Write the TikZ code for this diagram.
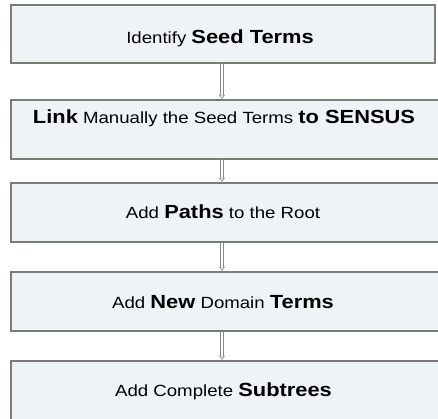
\documentclass[tikz,border=0pt]{standalone}
\usepackage{fontspec}
\setmainfont{Liberation Sans}[FakeStretch=1.15]
\usetikzlibrary{arrows.meta}
\definecolor{boxfill}{HTML}{EEF4F6}
\definecolor{boxline}{HTML}{7A7A7A}
\definecolor{arrline}{HTML}{8A8A8A}
\tikzset{
  stepbox/.style={draw=boxline, line width=1.3pt, fill=boxfill, rectangle, inner sep=0pt},
  steptext/.style={inner sep=0pt, text height=11.5pt, text depth=0pt, font=\fontsize{16.2}{19}\selectfont},
  flow/.style={draw=arrline, line width=0.6pt, double=white, double distance=2pt, -{Triangle[open, length=4pt, width=6pt]}, shorten >=0.5pt}
}
\newcommand{\bt}[1]{{\fontsize{19}{21}\selectfont\bfseries #1}}
\begin{document}
\begin{tikzpicture}[x=1pt,y=1pt]
\useasboundingbox (0,0) rectangle (438,-419);
\fill[white] (0,0) rectangle (438,-419);
\node[stepbox, minimum width=424pt, minimum height=58pt] (b1) at (223,-34) {};
\node[stepbox, minimum width=434pt, minimum height=59pt] (b2) at (228,-129.5) {};
\node[stepbox, minimum width=434pt, minimum height=59pt] (b3) at (228,-212.5) {};
\node[stepbox, minimum width=434pt, minimum height=59pt] (b4) at (228,-301.5) {};
\node[stepbox, minimum width=434pt, minimum height=62pt] (b5) at (228,-392) {};
\node[steptext] (t1) at (220,-37.5) {Identify \bt{Seed Terms}};
\node[steptext] (t2) at (224,-118) {\bt{Link} Manually the Seed Terms \bt{to SENSUS}};
\node[steptext] (t3) at (223,-212.5) {Add \bt{Paths} to the Root};
\node[steptext] (t4) at (223,-303) {Add \bt{New} Domain \bt{Terms}};
\node[steptext] (t5) at (223.5,-390.5) {Add Complete \bt{Subtrees}};
\draw[flow] (b1.south -| 222,0) -- (b2.north -| 222,0);
\draw[flow] (b2.south -| 222,0) -- (b3.north -| 222,0);
\draw[flow] (b3.south -| 222,0) -- (b4.north -| 222,0);
\draw[flow] (b4.south -| 222,0) -- (b5.north -| 222,0);
\end{tikzpicture}
\end{document}
